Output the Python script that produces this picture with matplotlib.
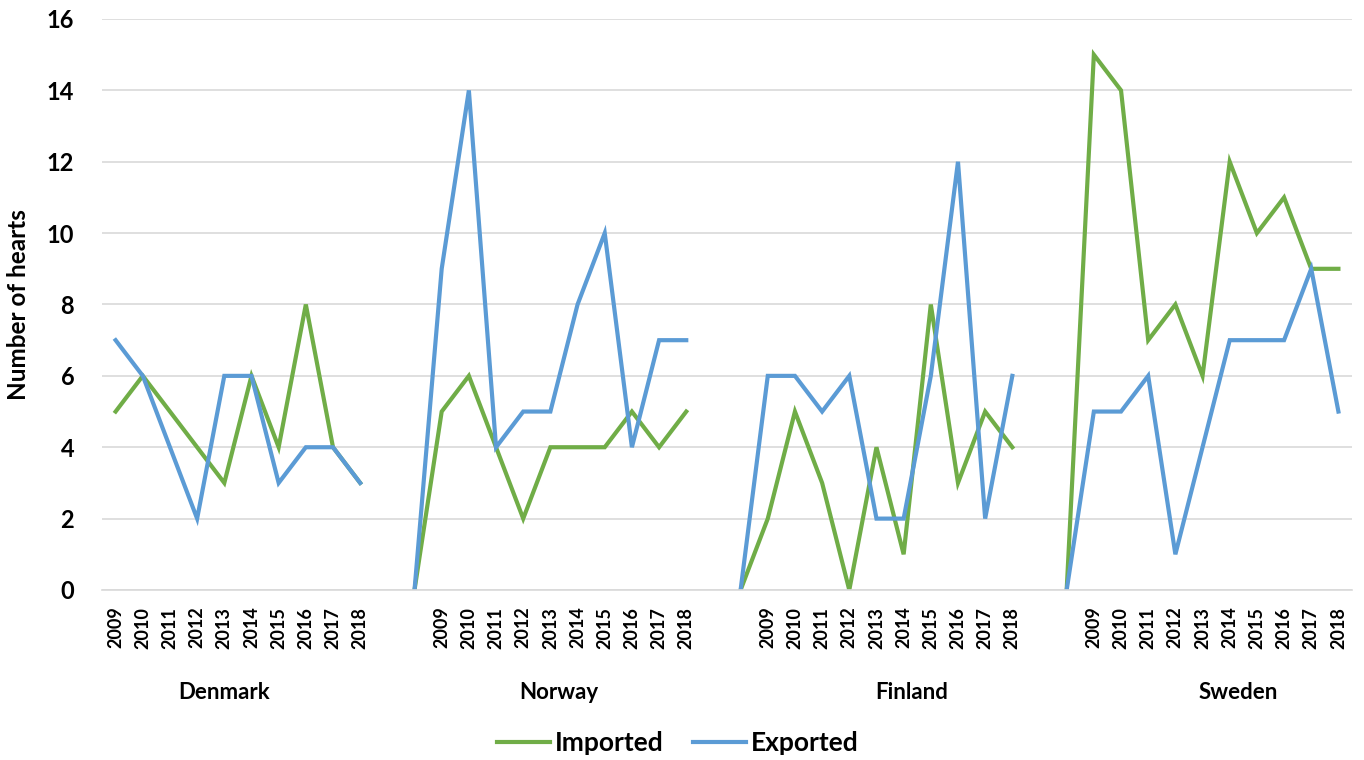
import numpy as np
import matplotlib.pyplot as plt

countries = ['Denmark', 'Norway', 'Finland', 'Sweden']
years = [2009, 2010, 2011, 2012, 2013, 2014, 2015, 2016, 2017, 2018]

imported_denmark = [5, 6, 5, 4, 3, 6, 4, 8, 4, 3]
imported_norway = [5, 6, 4, 2, 4, 4, 4, 5, 4, 5]
imported_finland = [2, 5, 3, 0, 4, 1, 8, 3, 5, 4]
imported_sweden = [15, 14, 7, 8, 6, 12, 10, 11, 9, 9]

exported_denmark = [7, 6, 4, 2, 6, 6, 3, 4, 4, 3]
exported_norway = [9, 14, 4, 5, 5, 8, 10, 4, 7, 7]
exported_finland = [6, 6, 5, 6, 2, 2, 6, 12, 2, 6]
exported_sweden = [5, 5, 6, 1, 4, 7, 7, 7, 9, 5]

# each group after the first starts with an empty row and a zero row
lead = [np.nan, 0]

imported = imported_denmark + lead + imported_norway + lead + imported_finland + lead + imported_sweden
exported = exported_denmark + lead + exported_norway + lead + exported_finland + lead + exported_sweden

year_labels = []
for i, c in enumerate(countries):
    if i > 0:
        year_labels += ['', '']
    year_labels += [str(y) for y in years]

x = np.arange(len(imported))

plt.rcParams['font.family'] = ['Lato', 'DejaVu Sans']
plt.rcParams['font.weight'] = 'bold'

fig = plt.figure(figsize=(13.64, 7.6), dpi=100)
ax = fig.add_axes([0.0748, 0.2237, 0.9164, 0.7513])

green = '#70AD47'
blue = '#5B9BD5'
ax.plot(x, imported, color=green, lw=3, label='Imported', solid_joinstyle='miter')
ax.plot(x, exported, color=blue, lw=3, label='Exported', solid_joinstyle='miter')

ax.set_xlim(-0.5, len(x) - 0.5)
ax.set_ylim(0, 16)
ax.set_yticks(range(0, 17, 2))
ax.tick_params(axis='y', length=0, pad=20, labelsize=17)
ax.set_xticks(x)
ax.set_xticklabels(year_labels, rotation=90, fontsize=13, fontweight='bold')
ax.tick_params(axis='x', length=0, pad=12)

ax.grid(axis='y', color='#D9D9D9', lw=1.2)
ax.set_axisbelow(True)
for s in ['top', 'right', 'left']:
    ax.spines[s].set_visible(False)
ax.spines['bottom'].set_color('#D9D9D9')
ax.spines['bottom'].set_linewidth(1.2)

ax.set_ylabel('Number of hearts', fontsize=17.5, fontweight='bold', labelpad=12)

# country group labels under the years
label_shift = [-0.5, -0.2, 0.8, 0.8]
start = 0
for i, c in enumerate(countries):
    if i > 0:
        start += 2
    center = start + (len(years) - 1) / 2 + label_shift[i]
    ax.text(center, -0.179, c, transform=ax.get_xaxis_transform(),
            ha='center', va='center', fontsize=16, fontweight='bold')
    start += len(years)

fig.legend(loc='center', bbox_to_anchor=(0.497, 0.022), ncol=2, frameon=False,
           fontsize=19, handlelength=2.0, handletextpad=0.2, columnspacing=1.1)

fig.savefig('out.png', dpi=100)
